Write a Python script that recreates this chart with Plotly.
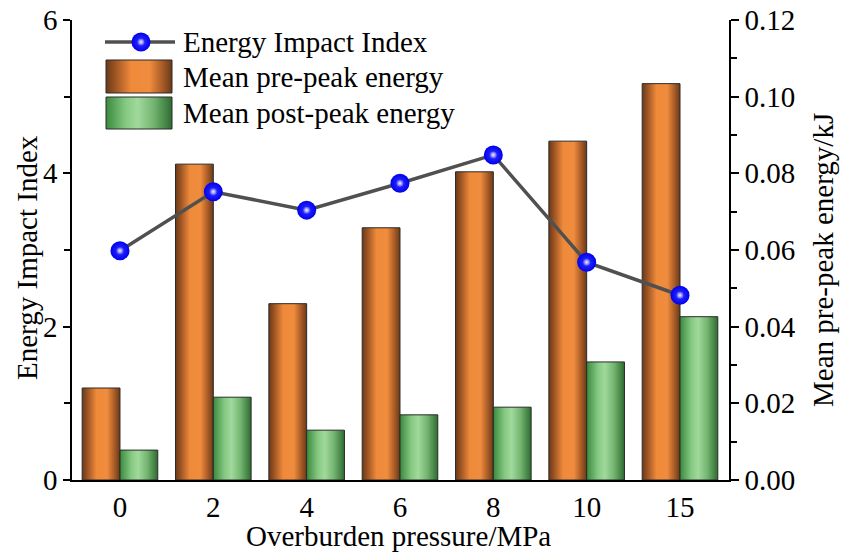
import plotly.graph_objects as go

# ---- data -------------------------------------------------------------
pressure_labels = ["0", "2", "4", "6", "8", "10", "15"]          # MPa
impact_index = [2.99, 3.76, 3.52, 3.87, 4.24, 2.84, 2.41]
pre_peak_kj = [0.0240, 0.0824, 0.0460, 0.0658, 0.0804, 0.0884, 0.1034]
post_peak_kj = [0.0078, 0.0216, 0.0130, 0.0170, 0.0190, 0.0308, 0.0426]

index_ticks = [0, 2, 4, 6]
energy_ticks = [0.00, 0.02, 0.04, 0.06, 0.08, 0.10, 0.12]

legend_names = ["Energy Impact Index", "Mean pre-peak energy", "Mean post-peak energy"]
x_title = "Overburden pressure/MPa"
left_title = "Energy Impact Index"
right_title = "Mean pre-peak energy/kJ"

# ---- styling ----------------------------------------------------------
FONT = "Liberation Serif, Times New Roman, serif"
FS = 29
BAR_W = 0.405
ORANGE = [[0.0, "#6a3a18"], [0.14, "#9c5423"], [0.38, "#ef8a3b"],
          [0.66, "#f08c3d"], [0.86, "#a65a26"], [1.0, "#6a3a18"]]
GREEN = [[0.0, "#3a8a3e"], [0.30, "#86c982"], [0.48, "#a0d99c"],
         [0.72, "#74b571"], [1.0, "#2d6c30"]]
EDGE = "#2a2a2a"
LINE_GREY = "#505050"
TXT = dict(family=FONT, size=FS, color="black")

# plot area in page pixels (used by the legend overlay and title placement)
L, R, T, B = 72, 729, 20, 480
W, H = 842, 554


def px_to_paper(px, py):
    return (px - L) / (R - L), (B - py) / (B - T)


fig = go.Figure()


def box(x0, x1, y0, y1):
    return [x0, x0, x1, x1, x0], [y0, y1, y1, y0, y0]


def add_gradient_box(xs, ys, scale, xaxis, yaxis):
    fig.add_trace(go.Scatter(
        x=xs, y=ys, xaxis=xaxis, yaxis=yaxis, mode="lines", fill="toself",
        fillgradient=dict(type="horizontal", colorscale=scale),
        line=dict(color=EDGE, width=1), showlegend=False, hoverinfo="skip"))


# bars (energy, kJ) on the base axis pair so that the line sits above them
for i, v in enumerate(pre_peak_kj):
    xs, ys = box(i - BAR_W, i, 0, v)
    add_gradient_box(xs, ys, ORANGE, "x", "y")
for i, v in enumerate(post_peak_kj):
    xs, ys = box(i, i + BAR_W, 0, v)
    add_gradient_box(xs, ys, GREEN, "x", "y")


def sphere_traces(x, y, xaxis, yaxis):
    base = go.Scatter(
        x=x, y=y, xaxis=xaxis, yaxis=yaxis, mode="markers",
        marker=dict(size=19, color="#0000ee", line=dict(width=0),
                    gradient=dict(type="radial", color="#3535ff")),
        showlegend=False, hoverinfo="skip")
    shine = go.Scatter(
        x=x, y=y, xaxis=xaxis, yaxis=yaxis, mode="markers",
        marker=dict(size=7, color="#4a4aff", line=dict(width=0),
                    gradient=dict(type="radial", color="#f4f4ff")),
        showlegend=False, hoverinfo="skip")
    return [base, shine]


# energy impact index line on the overlaid left axis
xi = list(range(len(pressure_labels)))
fig.add_trace(go.Scatter(
    x=xi, y=impact_index, xaxis="x", yaxis="y2", mode="lines",
    line=dict(color=LINE_GREY, width=3.5), showlegend=False, hoverinfo="skip"))
for tr in sphere_traces(xi, impact_index, "x", "y2"):
    fig.add_trace(tr)

# ---- legend, drawn on a pixel-scaled overlay -------------------------
row_y = [42, 77, 113]
fig.add_trace(go.Scatter(
    x=[105, 175], y=[row_y[0], row_y[0]], xaxis="x3", yaxis="y3", mode="lines",
    line=dict(color=LINE_GREY, width=3.5), showlegend=False, hoverinfo="skip"))
for tr in sphere_traces([141], [row_y[0]], "x3", "y3"):
    fig.add_trace(tr)
xs, ys = box(106, 172, 60, 93)
add_gradient_box(xs, ys, ORANGE, "x3", "y3")
xs, ys = box(106, 172, 97, 129)
add_gradient_box(xs, ys, GREEN, "x3", "y3")

annotations = []
for name, yy in zip(legend_names, row_y):
    annotations.append(dict(
        x=181, y=yy, xref="x3", yref="y3", text=name, showarrow=False,
        xanchor="left", yanchor="middle", font=TXT))

# axis titles, positioned in paper space
for text, (px, py), angle in [
    (x_title, ((L + R) / 2 - 2, 536), 0),
    (left_title, (27, 258), -90),
    (right_title, (823, 260), -90),
]:
    xp, yp = px_to_paper(px, py)
    annotations.append(dict(
        x=xp, y=yp, xref="paper", yref="paper", text=text, showarrow=False,
        textangle=angle, xanchor="center", yanchor="middle", font=TXT))

axis_common = dict(showgrid=False, zeroline=False, linecolor="black", linewidth=1.5,
                   tickwidth=1.5, automargin=False, tickfont=TXT)

fig.update_layout(
    width=W, height=H,
    margin=dict(l=L, r=W - R, t=T, b=H - B),
    paper_bgcolor="white", plot_bgcolor="white",
    font=TXT,
    showlegend=False,
    annotations=annotations,
    xaxis=dict(
        range=[-0.514, 6.525], tickmode="array", tickvals=xi, ticktext=pressure_labels,
        ticks="", showline=True, mirror=False, **axis_common),
    yaxis=dict(
        side="right", range=[0, 0.12], tickmode="array", tickvals=energy_ticks,
        ticktext=[f"{v:.2f}" for v in energy_ticks], ticks="outside", ticklen=8,
        tickcolor="black", showline=True,
        minor=dict(ticks="outside", dtick=0.01, ticklen=6, tickcolor="black", tickwidth=1.5),
        **axis_common),
    yaxis2=dict(
        side="left", overlaying="y", range=[0, 6], tickmode="array", tickvals=index_ticks,
        ticks="outside", ticklen=7, tickcolor="black", showline=True,
        minor=dict(ticks="outside", dtick=1, ticklen=6, tickcolor="black", tickwidth=1.5),
        **axis_common),
    xaxis3=dict(overlaying="x", anchor="y3", range=[L, R], visible=False, fixedrange=True),
    yaxis3=dict(overlaying="y", anchor="x3", range=[B, T], visible=False, fixedrange=True),
)

fig.write_html("out.html")
